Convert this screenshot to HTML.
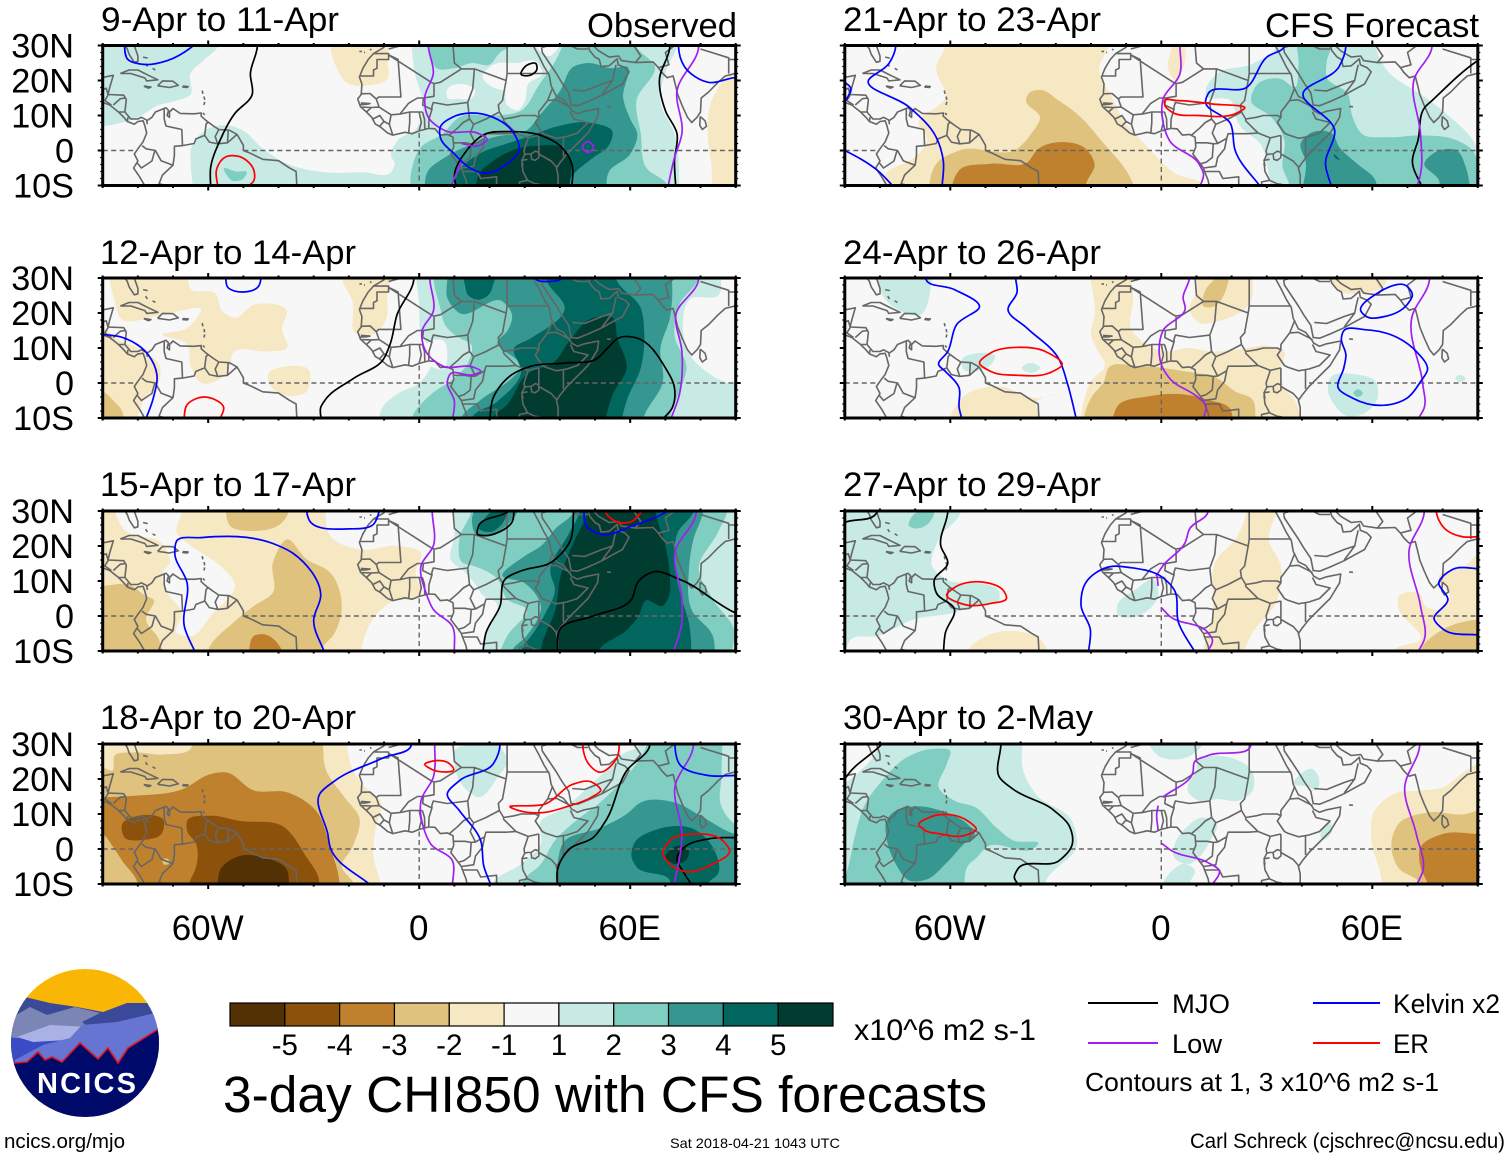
<!DOCTYPE html>
<html lang="en">
<head>
<meta charset="utf-8">
<title>3-day CHI850 with CFS forecasts</title>
<style>
html,body{margin:0;padding:0;background:#fff;width:1510px;height:1158px;overflow:hidden}
svg{position:absolute;left:0;top:0;font-family:"Liberation Sans",Arial,sans-serif}
</style>
</head>
<body>
<svg id="figure" width="1510" height="1158" viewBox="0 0 1510 1158" xmlns="http://www.w3.org/2000/svg">
<defs id="clips">
<clipPath id="logo-clip"><circle cx="85" cy="1043" r="74"/></clipPath>
</defs>
<g id="p0"><text x="101" y="31" font-size="34.6" textLength="238" lengthAdjust="spacingAndGlyphs">9-Apr to 11-Apr</text><text x="587" y="37" font-size="34.6" textLength="150" lengthAdjust="spacingAndGlyphs">Observed</text></g>
<g id="p1"><text x="100" y="264" font-size="34.6" textLength="256" lengthAdjust="spacingAndGlyphs">12-Apr to 14-Apr</text></g>
<g id="p2"><text x="100" y="496" font-size="34.6" textLength="256" lengthAdjust="spacingAndGlyphs">15-Apr to 17-Apr</text></g>
<g id="p3"><text x="100" y="729" font-size="34.6" textLength="256" lengthAdjust="spacingAndGlyphs">18-Apr to 20-Apr</text></g>
<g id="p4"><text x="843" y="31" font-size="34.6" textLength="258" lengthAdjust="spacingAndGlyphs">21-Apr to 23-Apr</text><text x="1265" y="37" font-size="34.6" textLength="214" lengthAdjust="spacingAndGlyphs">CFS Forecast</text></g>
<g id="p5"><text x="843" y="264" font-size="34.6" textLength="258" lengthAdjust="spacingAndGlyphs">24-Apr to 26-Apr</text></g>
<g id="p6"><text x="843" y="496" font-size="34.6" textLength="258" lengthAdjust="spacingAndGlyphs">27-Apr to 29-Apr</text></g>
<g id="p7"><text x="843" y="729" font-size="34.6" textLength="250" lengthAdjust="spacingAndGlyphs">30-Apr to 2-May</text></g>

<g>
<g clip-path="url(#logo-clip)">
<rect x="10" y="968" width="150" height="150" fill="#f9b605"/>
<polygon fill="#3b4a98" points="25,997 50,1003 77,1007 103,1012 127,1003 148,1003 165,1030 165,1080 5,1080 8,1030"/>
<polygon fill="#3a4cc4" points="5,1030 60,1030 60,1075 5,1075"/>
<polygon fill="#7c86b4" points="13,1017 30,1007 47,1015 75,1007 100,1013 82,1022 88,1027 50,1030 17,1038 5,1037"/>
<polygon fill="#aab1e4" points="17,1037 50,1025 88,1027 67,1040 33,1042"/>
<polygon fill="#6675d2" points="15,1060 43,1045 70,1038 82,1025 117,1022 155,1013 170,1025 170,1070 15,1070"/>
<polygon fill="#000a6b" stroke="#e0141e" stroke-width="1.6" points="5,1062 15,1063 27,1062 38,1052 45,1060 52,1057 62,1062 80,1043 98,1059 108,1048 118,1063 128,1048 157,1030 170,1022 170,1120 5,1120"/>
</g>
<text x="37" y="1093" font-size="29" font-weight="bold" fill="#fff" textLength="99" lengthAdjust="spacing">NCICS</text>
</g>
<text x="4" y="1148" font-size="20.5" textLength="121" lengthAdjust="spacingAndGlyphs">ncics.org/mjo</text>

<g id="colorbar"></g>
<text x="854" y="1040" font-size="29.9" textLength="182" lengthAdjust="spacingAndGlyphs">x10^6 m2 s-1</text>
<text x="223" y="1112" font-size="51" textLength="764" lengthAdjust="spacingAndGlyphs">3-day CHI850 with CFS forecasts</text>
<text x="670" y="1148" font-size="14" textLength="170" lengthAdjust="spacingAndGlyphs">Sat 2018-04-21 1043 UTC</text>

<g>
<line x1="1088" x2="1158" y1="1003" y2="1003" stroke="#000" stroke-width="2"/>
<text x="1172" y="1013" font-size="27" textLength="58" lengthAdjust="spacingAndGlyphs">MJO</text>
<line x1="1313" x2="1380" y1="1003" y2="1003" stroke="#0000ff" stroke-width="2"/>
<text x="1393" y="1013" font-size="27" textLength="107" lengthAdjust="spacingAndGlyphs">Kelvin x2</text>
<line x1="1088" x2="1158" y1="1043" y2="1043" stroke="#a020f0" stroke-width="2"/>
<text x="1172" y="1053" font-size="27" textLength="50" lengthAdjust="spacingAndGlyphs">Low</text>
<line x1="1313" x2="1380" y1="1043" y2="1043" stroke="#ff0000" stroke-width="2"/>
<text x="1393" y="1053" font-size="27" textLength="36" lengthAdjust="spacingAndGlyphs">ER</text>
<text x="1085" y="1091" font-size="26" textLength="354" lengthAdjust="spacingAndGlyphs">Contours at 1, 3 x10^6 m2 s-1</text>
</g>
<text x="1190" y="1148" font-size="21" textLength="315" lengthAdjust="spacingAndGlyphs">Carl Schreck (cjschrec@ncsu.edu)</text>
</svg>

<script>
/* ---------- axis values ---------- */
const latMajor = [30, 20, 10, 0, -10];
const latLabels = ["30N", "20N", "10N", "0", "10S"];
const latMinor = [28,26,24,22,18,16,14,12,8,6,4,2,-2,-4,-6,-8];
const lonMajor = [-60, 0, 60];
const lonLabels = ["60W", "0", "60E"];
const lonMinor = [-90,-80,-70,-50,-40,-30,-20,-10,10,20,30,40,50,70,80,90];
/* equator is only dashed over ocean: lon ranges */
const equatorOcean = [[-90,-80.5],[-50,9.2],[42,90]];

/* ---------- colorbar ---------- */
const levelKeys = [-5,-4,-3,-2,-1,0,1,2,3,4,5];
const levelColors = ["#543005","#8c510a","#bf812d","#dfc27d","#f6e8c3","#f7f7f7","#c7eae5","#80cdc1","#35978f","#01665e","#003c30"];
const colorbarLabels = ["-5","-4","-3","-2","-1","1","2","3","4","5"];

/* ---------- base map (lon,lat pairs) ---------- */
const coastlines = [
[-84,30.5,-83,29,-82.5,27.5,-81,25.2,-80,25.5,-80,27,-81,30,-81,32],
[-98,28,-97.5,22,-95,18.6,-92,18.6,-90.5,20.8,-87,21.5,-88,18,-88.5,16,-84,15.8,-83.3,14.5,-83.7,11,-82,9,-80,9,-79,9.5,-77.3,8.6,-76,9.5,-75,11,-72,12.2,-71.3,11.5,-71.7,10,-71,9.5,-71,11,-70,12,-68,10.6,-64,10.5,-62,10.7,-62,9.8,-60.5,8.5,-58.5,7,-57,6,-54,5.8,-51.8,4.6,-50,1.5,-50,0,-48,-0.8,-44.5,-2.5,-40,-2.9,-37,-4.9,-35,-6,-34.8,-10,-37,-12,-39,-16],
[-95,16,-92,14.5,-88,13,-85.5,11,-84,9.5,-83,8.3,-81,7.5,-80,8.3,-78.5,8.5,-78,7,-77.5,5,-78.5,2.5,-80,0.5,-81,-1,-80,-3,-81.2,-5,-79.5,-7.5,-77.5,-11,-76,-14],
/* central + south American borders */
[-92,14.5,-91,17,-89,17.8,-88.5,16],[-88.5,15.8,-89.4,14.3,-87.5,13],[-87,13,-85,14.8,-83.3,15],[-85.6,11,-83.7,11],[-83,8.3,-82.8,9.5],[-77.5,8.6,-77.3,7.5],
[-72.5,11.8,-72.5,9,-72,7,-67.5,6,-67.3,1.4,-64,2,-63.5,3.3,-61,4.3,-60.6,7.6,-59.8,8.2],
[-61,4.3,-59.7,2.4,-57.3,1.9,-58,4,-57,6],[-57.3,1.9,-54.5,2.2,-54.3,5.6],[-54.5,2.2,-51.8,4.6],
[-67.3,1.4,-69.6,1.2,-69.6,-1.4,-70,-4.2,-73,-7,-74,-9.5,-72,-10,-70.5,-11,-69,-11,-66,-10,-65,-12],
[-78.8,1.4,-77.7,0.5,-75,0,-73.4,-2.9,-70,-4.2],[-80.3,-3.4,-79,-5,-76,-3,-75.2,-0.2],
[-85,22,-82.5,23,-80,23,-77,21.5,-74.3,20.2,-77.5,19.9,-78,20.7,-82,22,-85,22],
[-74.4,18.5,-73,19.9,-70,19.8,-68.5,18.6,-71,18,-74.4,18.5],
[-78.3,18.4,-76.3,18.1,-77,17.8,-78.3,18.4],
[-67.2,18.4,-65.7,18.3,-66,18,-67.2,18.1,-67.2,18.4],
[-78.5,26.7,-77.2,26.4],[-77.8,24.8,-77.3,24],[-75.8,23.5,-75,23],
[-61.7,17.1,-61.5,16.2],[-61.2,15.4,-61,14.5],[-61,13.9,-61.2,13],[-61.5,10.7,-61,10.2],
[-17,28.3,-16.3,28.3],[-15.7,28,-15.4,28],[-14,28.7,-13.6,29],
/* Africa west + south-west coast */
[-6,35.5,-9.7,31.5,-10,29.5,-13,27.7,-14.5,26,-16,23.5,-17,21,-16.3,19,-16.5,16,-17.5,14.7,-16.7,12.5,-15,11,-13.5,9.5,-12.5,7.6,-11,6.7,-9,5,-7.5,4.4,-4,5.2,-2,4.8,0,5.6,2.7,6.3,4.5,6.2,6,4.4,8,4.6,9.6,3.8,9.8,1,9,-1,10.5,-3,12,-5,12.3,-6,13.3,-8.5,13.8,-11,12.5,-14,12,-17],
/* Africa east coast + Red Sea west */
[32.6,31,32.5,29.8,34,27,35.5,24,37,21.5,37.5,18.5,39,15.5,41,14.5,43,12,43.3,11.4,45,10.5,47,11.2,51,12,50.7,9.5,48,5,45,2,42,-1,40,-3.5,39,-5,39.5,-7,39.5,-10,40.6,-14,40.6,-16],
/* Arabia + Asia */
[34.8,29.5,35,28,37,25,39,22,40.5,19.5,42.5,16.5,43.2,13,45,12.8,48,14,52,15.8,55,17.5,57.8,19,59.7,22.5,58.5,23.7,56.6,24.5,56.3,26.2,55.3,25.3,54,24.2,51.7,24,51.2,26,50,26.7,48.5,28.5,48,30,49,30.5,51,28.5,54,26.7,56.7,27,57.5,25.7,61.5,25.1,66.5,25.3,68,23.7,69,22.3,70.5,20.8,72.2,21.3,72.8,19,73.5,16,74.8,12.8,76.3,9.5,77.5,8,79,9.5,80,11,80.2,15,82.3,16.7,85,19.5,87,21.3,89,21.8,91,22.5,92,20.8,94,16,94,18],
[79.9,9.7,81.3,8.5,81.7,6.9,80.5,6,79.8,7.2,79.9,9.7],
[53.4,12.6,54.5,12.5],
/* lakes */
[31.8,-1,33,-0.2,34,-0.5,34,-2,33,-2.8,32,-2.5,31.8,-1],[29.2,-3.5,29.5,-6,30.8,-8.5],[34.3,-9.7,34.8,-13],
/* country borders – W Africa */
[-13,27.7,-8.7,27.7,-8.7,26,-12,26,-12,23.5,-13,23,-13,21.3,-17,21.3],
[-8.7,27.3,-6,26,-5.2,15.3,-11.5,15.3,-12.2,14.7,-14,16.3,-16.5,16.2],
[-8.7,27.3,3.4,19.5,4.2,19.1,6,19.5,12,23.3,10,25,9.6,30,8,32,8.5,36],
[-8.7,29,-5,30,-2,32,-2,35],
[4.2,19.1,4.2,15.5,1.2,15,1,13,3.6,11.7,3.6,12.5,4,13.7,8,13,13.8,13.7,15.2,17.6,15.7,23.3,12,23.3],
[2.7,6.3,2.8,9,3.6,11.7],[1.6,6.2,1.5,9,0.9,11],[0,5.8,0.6,8,0,11],[-3,5,-2.7,8,-2.7,11,0,11,0.9,11],
[-5.5,10.4,-2.7,11],[-5.5,10.4,-3,13.5,-0.5,15,1,15],[-7.5,4.4,-8.5,7.5,-8,10.2,-5.5,10.4],
[-11.3,6.9,-10,8.3,-8.5,7.5],[-13.2,9,-11.2,10,-10,8.3],[-15,11,-13.6,12.3,-16.7,12.4],
[-13.6,12.3,-11.4,12.4,-8,10.2],[-11.4,12.4,-12.2,14.7],[-16.6,13.6,-14,13.4,-15,13.2,-16.7,13.1],
[13.8,13.7,14.3,9,12.5,8,11,6.5,8.6,4.4],
[9.8,2.2,13,2.2,14.8,1.9,16,2,14.5,5,15.5,7.5,19,9,22.8,11,22.5,13,23.7,14.3,24.7,20,15.7,23.3],
[14.3,9,15.5,7.5],
/* central + east Africa */
[24.7,20,25,22,25,32],[25,22,37,22],
[22.8,11,24,9,27,9.5,29,10,33,10,34,9.5,34,11,36.5,14.3,38,18],
[36.5,14.3,39,14.5,43,12.4],[34,9.5,33,8,35,5,36,4.5,39,3.5,42,4,45,5,48,8,44,9,43,11],
[41,3.8,41,-1.7],[34,4.3,34,0,34,-1,37.5,-3,39,-4.7],[31,3.6,34,4.3],
[31,3.6,29.8,0,30,-1.2,29.2,-2.8,29.5,-4.5],[30,-1.2,30.8,-1,31.8,-1],[30.8,-2.5,29.2,-2.8],
[31,3.6,27.5,5,24.7,4.8,19,4.8,18.6,3.5,16,2],[27.5,5,24,8.5,24,9],
[18.6,3.5,18,0.5,16,-2,15.5,-4.5,12,-5],[14.8,1.9,14.5,-2,12.8,-3.3,11.2,-3.8],
[12.3,-6,16.5,-6,17.5,-8,22,-7.5,22,-11,24,-11,24,-13],[24,-11,28,-12,29,-13.5,28.5,-9,30.8,-8.5,33,-9.5,34.3,-9.7],[34.5,-11.5,40.5,-10.5],
/* Arabia borders */
[39,32,37,30,35,29.5],[39,32,45,29,48,29],[43.5,17.3,47,17,52,19,55,20,52,16],[55,20,55.5,22.5,56,24.5],
[48,30,46,33],[61.5,25.2,63,27,61,30,61,33],
[61,30,67,30,70,33],[68,23.7,71,24.5,70,28,74,31,75,33],[80,29,88,26.5,88,22],[88,26,92,26,92,23,91,22.5],[92,24,94,24]
];

/* ---------- filled contours: [level, lon,lat outline] ---------- */
const fills0 = [
[1,[-95,35,-56,35,-57,30,-61,26,-65,22,-65,16,-70,14,-74,13,-80,9.5,-86,7.6,-95,7]],
[1,[-63.5,-15,-65,-3,-65,0,-59.5,6.5,-55,7.2,-50,5.7,-45,1,-37.5,-3.8,-27,-6.2,-16,-6.2,-8,-6.2,-7,-3.8,-8,-1.5,-6,3,-1,6,1,14,-1,21,-2,35,72,35,73.3,30,70.6,24,68.6,14,72.6,4.8,74,-10,74,-15]],
[0,[18,21,21,24.5,28,25,33,25.5,35,22,31,19,30,14,28,11.5,25,13,24,17,21,18]],
[0,[8,17.5,12,19,16,17,15,15,11,14.8,8,15]],
[0,[33,35,33,30,37,27,40,30,41,35]],
[2,[3,35,3,28,5,23.5,10,23.5,15,25,20,24.5,23,28,26,30,27,35]],
[2,[-2,-15,-2.2,-5.7,0.5,1,6.7,4.8,11.4,9.5,22.3,10,29,11.4,34,18.6,39.3,26.7,40.7,30,41,35,62,35,61.8,30,67,24,61.8,14.3,63,4.8,64.5,-4.8,70.6,-10,71,-15]],
[3,[2,-15,2.6,-5.7,7.3,-2,15.5,2,22,4,30.5,5.7,34.6,10.5,40,17,44,24,48,25,55,23.5,59,24,58,15,60,9,62,4.8,60,-1,54,-6,53,-15]],
[4,[10,-15,11.4,-5.7,17,-1,25,2,30.5,3.8,38.6,6.7,48,8,55,5.2,53.6,1,49.5,-2,42.7,-8.5,41,-15]],
[5,[17,-15,17,-6.7,21,-3,27.8,0.5,34.6,1.4,40,1,42.7,-2,43,-8,41.4,-15]],
[2,[-55.5,-5,-52,-6,-49,-6.2,-50,-8,-53,-8.7]],
[-1,[-25.3,35,-25.3,30,-24,24.8,-20,19,-14.4,18.6,-9,20.5,-9,25.7,-9,35]],
[-1,[96,22,89,22,83.5,15,82,5,83,-3,85,-15,96,-15]]
];
const fills1 = [
[-1,[-88,35,-66,35,-64.8,26.7,-58,25.7,-56,20.5,-52.5,18.6,-47,22.4,-37.6,20.5,-39,15.7,-37.6,10,-43,9,-52.5,9,-55,2.4,-62,0,-64.8,4.3,-66,11,-73,13.8,-66,15.7,-62,21,-73,19.5,-85,18.6,-86.6,23.3]],
[-1,[-95,15.7,-90,15.7,-85,12,-80,10,-73.6,4.3,-74,0.5,-78.4,-5,-80,-10,-80,-15,-95,-15]],
[-2,[-96,-3,-90,-2.4,-87,-5,-84.5,-8,-85,-15,-96,-15]],
[-1,[-43,2.4,-37.6,4.8,-31.4,3.8,-32,-2.4,-39,-3.3,-42.5,-0.5]],
[-1,[-22,35,-22,30,-19,23.3,-18,14,-12,14.5,-9.5,18,-9,26,-7,35]],
[1,[-11.5,-15,-10.5,-7,-6,-3,0,0,3,4,4,8,0.5,14,0,22,-1,35,85,35,85,25,77,24,75,15,77,8,82,3,88,0,96,0,96,-15]],
[0,[3,12,7,12,8,8,7,4,3,5]],
[2,[-2,-15,-2,-10,3.3,-3.3,10,1.4,14,6,14.8,11,11.4,12.9,7.3,16.7,6,21.4,4,30,4,35,80,35,79.5,30,74,22.4,72.6,13.8,76,4.3,74,-2.4,71.3,-10,71,-15]],
[3,[12,-15,12,-10,17,-5.2,26.4,1.4,29,4.3,22.3,12,25,14.8,26.4,19.5,23.7,23.3,11.4,20,8,24.3,8,30,8,35,71,35,71.3,18.6,68.6,10,69.3,0.5,63.8,-10,63,-15]],
[4,[15,-15,15,-10,22.3,-5.2,29,3.3,27,10,31.8,12.8,41.4,21.4,36,30,36,35,56,35,56,30,63,21.4,64,13.8,63,4.3,59,-5,57.7,-10,57,-15]],
[4,[13,35,13,28,14,25,17,23.8,20,25.5,21,28,22,35]],
[5,[21,-15,21,-10,25,-6.2,30.5,2.4,38.6,6.2,42.7,12,49.5,18.6,55,18.6,56.3,13,59,4.3,55,-3.3,53,-10,52,-15]]
];
const fills2 = [
[-1,[-96,35,-26.7,35,-26.7,30,-25.3,22.9,-17,19,-6,20,0.5,18,-1,12.4,0.5,6,-8.3,3.8,-11.7,1,-15.8,-6.7,-17,-15,-96,-15]],
[0,[-86.5,35,-86.5,30,-84,24.8,-73,20.5,-71,15,-73,12.4,-71.6,6.7,-67.5,1,-69,-4.8,-64.8,-5.7,-59.3,0,-52.5,9.5,-56.6,14.3,-64.8,20,-69,23.8,-67.5,30,-67.5,35]],
[-2,[-96,8.6,-90,8.6,-82.5,9,-77.7,5.7,-75.6,4.8,-77.7,-1,-74,-6.7,-73,-15,-96,-15]],
[-2,[-55,35,-55,30,-54,26,-47,24.3,-39,26.7,-37,30,-37,35]],
[-2,[-60,-15,-60,-10,-53,-2,-47,2.9,-41.6,6.7,-41.6,15.2,-37.5,21.9,-32,16.2,-25.3,12.4,-22,2.9,-24,-4.8,-28,-10,-28,-15]],
[-3,[-48.4,-15,-48.4,-10,-47,-5.7,-44.4,-5.2,-39,-10,-39,-15]],
[1,[9.4,35,10,22.9,9,16,13,12.5,16,9,18,6,22,3.5,22.3,1.9,19,-4.8,18,-15,96,-15,96,35]],
[2,[14.8,35,14.8,30,11.4,21.9,12.4,15.2,15.5,14.3,22.3,10.5,25,4.8,30.5,1.9,25,-5.7,21.6,-15,89,-15,89,-10,89.7,-4.8,83.5,4.8,79.5,13.3,85,24,87.6,30,87.6,35]],
[3,[15,27,16,23.5,21,23.5,26,27,28,30,27,35,20,35]],
[4,[17,25,20,24,24,27,25,30,21,30,18,27]],
[3,[26.4,-15,26.4,-10,30.5,-5.7,34.6,2.9,29.8,9.5,23.7,11.4,29.8,17,34.6,20,38.6,24.8,44,30,44,35,81,35,80.8,30,78,22,76.7,13.3,77.4,1.9,83.5,-5.7,83.5,-15]],
[4,[29,-15,29,-10,32.5,-4.8,36,1,38.6,7.6,37.3,12.4,42.7,23.8,45.7,30,46,35,78,35,78,30,73.5,23.8,72.7,14.3,74.7,4.8,76.7,-1.9,76.7,-15]],
[5,[34.6,-15,34.6,-10,39,2.9,40,10.5,44.8,22.9,47.5,28.6,48,35,67,35,67.2,30,70,20,71.3,11.4,71,5.7,69.3,2.9,64.5,4.5,62.4,0,59,-4,51,-10,50,-15]]
];
const fills3 = [
[-2,[-96,35,-27.3,35,-27.3,30,-26.7,23.3,-21.2,14.8,-17,9,-19,0.5,-22,-5,-18.5,-10,-18.5,-15,-96,-15]],
[-1,[-96,35,-20.5,35,-20.5,30,-19.2,23.3,-14.4,16.7,-11,13.8,-12.4,6,-13,-2.4,-11,-10,-11,-15,-18,-15,-18.5,-10,-22,-5,-19,0.5,-17,9,-21.2,14.8,-26.7,23.3,-27.3,30,-27.3,35]],
[-1,[-96,33,-64.8,33,-64.8,29,-73,27,-81,27.6,-86.6,26.7,-87.3,22.4,-90,23.3,-96,23]],
[-3,[-96,14.8,-90,14.8,-81,15.2,-67.5,17,-59.3,21.4,-55,21.9,-47,16.7,-37.6,16.2,-29.4,11,-25.3,0.5,-22.6,-10,-22.6,-15,-80,-15,-80,-10,-84.5,-3.3,-87,0.5,-90,4.3,-96,5]],
[-4,[-80,9.5,-72.6,8,-73.3,4.3,-78.4,2.6,-83.8,3.3,-84.5,7]],
[-4,[-66,8,-59.3,9.5,-51,8,-39,6.6,-32,-2.4,-28.7,-8,-28.7,-15,-65.4,-15,-65.4,-10,-63.4,-5,-63.4,1.4,-66,5.2]],
[-5,[-57.3,-15,-57.3,-10,-56.6,-6,-51,-2,-44.4,-2.4,-37.6,-6,-37,-10,-37,-15]],
[-2,[-73,-3,-71.5,-2.8,-71,-4,-72.5,-4.5]],
[-1,[-18,15,-16,15.5,-12,9,-14,5,-17,11]],
[1,[10,28,10,24.3,12,18.6,17,14.8,22.3,20.5,25,25,22,30,15,30]],
[1,[21,-15,21,-10,29,-4.3,34.6,1.4,34.6,8,40,11,52,21.4,57.7,27,63,30,63,35,96,35,96,-15]],
[2,[29,-15,29,-10,34.6,-4.3,38.6,2.4,44,7.6,52,13.8,57.7,19.5,64.5,29,66,35,85,35,86,22,86,12,90,7,96,6,96,-15]],
[3,[39.3,-15,39.3,-10,39.5,-3,40.7,1.4,52,6.2,59,10,63,13.3,72.6,13.3,80.8,9,90,4.3,96,4,96,-15]],
[4,[60.4,-2.4,61,1.4,68,5.7,78,5.7,83.5,0.5,85,-7,82,-10,82,-15,71,-15,71.3,-9,61.7,-5]],
[5,[70,-2.4,74,1,76.7,-0.5,76,-3,72.6,-4.3]]
];
const fills4 = [
[-1,[-61.4,35,-61.4,30,-64,23.8,-61.4,15.2,-69,7.6,-66.5,2.9,-69,-1,-78.8,-7.6,-78,-15,12,-15,12,-10,4.2,-6.7,-4.8,1.9,-10,7.6,-14,15,-17.6,23.8,-15,30,-15,35]],
[-1,[3,35,3,30,2,23,4,20,6,23,7,30,7,35]],
[-2,[-66,-15,-66,-10,-64,-3.8,-57.5,0,-41,0.5,-37,4.8,-34.5,9.5,-38.5,14.5,-37.5,16.5,-34.4,17.3,-29.2,14.3,-24,10.5,-16.3,1.9,-10,-5.7,-6,-15]],
[-3,[-59.5,-15,-59.5,-10,-57.5,-5.7,-48.5,-3.8,-38,-3.3,-35,0.5,-29,2.4,-21.5,0.5,-19,-3.8,-21.5,-10,-21.5,-15]],
[1,[12.6,17,15.8,21.9,26,24.8,32.6,29.5,33,35,61,35,60.9,30,63.4,24,75,15.2,80,11.4,88,3.8,90,1,96,0,96,-15,31,-15,31,-10,30,-3.8,28.7,1,22,7.6,19.7,14.3,12.6,16]],
[2,[25.5,14.3,27.4,19,33.8,20.5,38,18,39,24,39,35,50,35,47,25,47,21,53,16.2,54.4,9.5,57,4.8,64.7,3.8,73.7,4.3,84,2.9,88.5,0,90,-3,91,-15,36.4,-15,36.4,-10,34.5,-4.8,35,2.9,31.3,9.5]],
[3,[39.6,1.9,42.9,5.2,48.6,4.8,50.6,1,55.7,-3.8,60.9,-8.6,61,-15,40.3,-15,41,-2.9]],
[3,[74.8,-3.8,79,0,84,0,86.6,-4.8,86.6,-15,79,-15,79,-8.6]],
[4,[49,-1,50,-1.8,50.7,-2.6,49.8,-2.4]]
];
const fills5 = [
[1,[-80.7,35,-80.7,30,-78,23.3,-68.5,19.5,-65.3,30,-65.3,35]],
[1,[-56.9,6.2,-51.7,8.6,-47.2,7.6,-48.5,5.2,-56.5,4.3]],
[1,[-39.7,4.3,-37.6,5.7,-34.4,4.3,-36.9,2.9]],
[1,[47.4,-2.4,48,1.4,55.7,2.4,60.9,0.5,61.5,-4.3,57,-9,53,-9.5,49.2,-6.2]],
[1,[83.6,1.4,85,2.3,86.6,1.2,85,0.2]],
[2,[54.6,-2.9,56,-1.8,57.3,-2.9,56,-4]],
[-1,[-19,35,-8.6,35,-8.6,30,-8,24,-8.6,15.7,-4,11,1,9,8,10,14,9,21,9.5,31,10.5,35,9,34,4.3,35,-1.4,38,-5,39.6,-15,-23,-15,-22,-5,-20,0.5,-16,5,-18.5,10,-20,14,-19,19]],
[-1,[10,35,26,35,26,30,25.5,23.3,16,17.6,10.7,17.2,8,21.4,10,26]],
[-1,[47.4,35,47.4,30,52,25.7,55.7,25.7,63.5,28,63.5,35]],
[-1,[-60,-15,-60,-10,-55.5,-3.3,-46,-1,-35.7,-4.3,-26.6,-2.4,-35.7,-6.2,-34.4,-10,-34.4,-15]],
[-2,[12,21.9,12.6,26.7,15.2,30,15.2,35,17.8,35,17.8,25.2,15.2,21.9]],
[-2,[-22,-15,-22,-10,-20,-4.3,-16.3,0.5,-15,4.3,-6,4.8,6.8,3.3,15.8,1.4,21,-2.4,26,-4.8,26.8,-10,26.8,-15]],
[-3,[-13.8,-15,-13.8,-10,-12.5,-6.7,-3.5,-3.8,6.8,-3.3,13.3,-4.8,19.7,-7.6,20.3,-10,20.3,-15]]
];
const fills6 = [
[1,[-96,35,-56.9,35,-56.9,30,-63.3,21.9,-65.2,14.3,-60,10,-52.4,9.5,-46,6.7,-46,4.8,-53.7,2.9,-58.8,1,-70.4,-1,-80.7,-5.7,-88.3,-6.7,-90,-10,-96,-15]],
[2,[-71.7,25.7,-70.4,29,-64.6,29.5,-66.5,26.2,-69.8,25]],
[1,[-12.5,2.9,-7.3,7.6,-2.2,10.5,-0.9,5.7,-3.5,1.9,-8.6,-0.5,-12.5,0.5]],
[-1,[-55,-15,-55,-10,-49.8,-5.7,-42,-4.3,-34.4,-6.7,-32.4,-10,-32.4,-15]],
[-1,[12,-15,12,-10,14.5,0,15.8,16.2,21,21.9,24.2,30,24.2,35,32.6,35,32.6,30,30.6,21.9,34,14.3,32.6,3.8,26,-4.8,23.6,-10,23.6,-15]],
[-1,[66,-15,66,-10,73.7,-6.7,67.3,2.9,67.3,5.2,73.7,6.2,75,2.9,78.9,1.9,82,5,78.9,11.4,86.6,14.3,90,17.6,96,15,96,-15]],
[-2,[73.7,-15,73.7,-10,80.2,-3.8,90,-1,96,-1,96,-15]]
];
const fills7 = [
[1,[-96,35,-39.5,35,-39.5,30,-39.5,23.3,-35.7,15.7,-25.4,8,-24,1.4,-33,-10,-33,-15,-96,-15]],
[0,[-96,35,-80,35,-81,28,-86,22,-90,19,-96,19]],
[2,[-65,28.6,-60,28,-61,24.3,-63.3,17.6,-58.8,13.8,-53,12,-47,6.2,-42,2.4,-35,1.4,-36,0.4,-49.8,0.5,-52.4,-2.4,-55,-4.8,-56,-10,-56,-15,-90,-15,-90,-10,-88.6,-3.3,-86.5,6.2,-84.6,12,-79.4,19.5,-72.3,26.2]],
[3,[-78.1,8,-76.8,10,-71.7,12,-61.4,10.5,-55,7,-53,4.3,-56.2,1.4,-61.4,-4.3,-66.5,-8.6,-71.7,-9,-75.5,-4.3,-78,2.4]],
[1,[-3.5,35,-3.5,30,-0.9,26.7,8.4,26.7,12,30,15,35]],
[1,[10,24.3,20,26,26,21.9,26,16.7,22,13.8,16,14.3,10.7,13.8,7.5,16.7,8,19.5,10,22.4]],
[1,[6.2,5.2,12,9,15.8,7,13.9,2.4,10.7,-2.4,8,-4.3,3.6,-2.4,4.2,2.4]],
[1,[0.4,-15,0.4,-10,2.3,-7,6.8,-4.3,9.5,-6,8,-10,8,-15]],
[1,[37.7,18.6,42.9,22.9,44.8,20.5,44,16.7,42.2,17.6]],
[1,[45.4,3.3,48,7.6,48.6,5.7,46,2.8]],
[-1,[62.8,-15,62.8,-10,59.6,4.3,60.2,10,66,15.7,73.7,16.7,80,17.6,86.6,22.4,90,24.3,96,24,96,-15]],
[-2,[73.7,-15,73.7,-10,67.3,-5.2,65.4,1.4,67.3,7,76.3,10.5,86.6,10,90,11,96,11,96,-15]],
[-3,[75.7,-15,75.7,-10,73.7,-5.2,73.7,0.5,80,4.3,90,4.3,96,4,96,-15]]
];

/* ---------- contour lines (lon,lat) – a repeated first point closes a loop ---------- */
const mjo0 = [[-46,31,-46,30,-48,22,-47.5,16,-52.5,10.5,-56.6,3,-59.3,-4.8,-59.3,-11],
[29,21.7,30.5,24.3,33.2,24.8,33.5,23.3,31.2,21.4,29,21.7],
[10.7,-11,10,-7.6,13.5,0,19,4.8,25,5.4,34.6,4.3,40,1.4,43.4,-3.8,43.4,-11],
[71.3,31,71.3,30,68.3,20,70,11.4,73.3,4.8,72.6,-3,73,-11]];
const low0 = [[2.6,31,2.6,30,4,22,1.6,15.2,2.6,9.5,7.3,5.7,17,4.8,19.3,3.3,17,1.4,12,2],
[8.7,-11,12,-3],
[48,2.6,49.6,1,48,-0.6,46.4,1,48,2.6],
[79.5,31,79.5,30,73.3,17,74.7,4.8,72.6,-2,70.6,-11]];
const kelvin0 = [[-83.8,31,-83.8,30,-83,26.2,-78.4,24.6,-71.6,25.7,-64.8,29.5,-63,31],
[6,6.7,9.4,9.5,14.8,10.7,21,9.5,27,4.8,28.4,0,25,-3.8,19,-6.5,14.8,-5.2,10,-1,6,3.8,6,6.7],
[73.7,31,73.7,30,75.4,24,82.2,19.5,89.7,20.8,92,21]];
const er0 = [[-57.2,-11,-57.5,-5,-55.2,-1.9,-51.2,-1.7,-47,-5.7,-47,-8.6,-50,-11]];

const mjo1 = [[-1.5,31,-1.5,30,-6.3,19.5,-8.3,11,-10.3,6.6,-18.5,1.4,-26.7,-4.8,-28,-7,-27.8,-11],
[20,-11,21,-4.3,26.4,2.4,31.8,4.8,41.4,5.7,50.6,7,53.6,10,57,13,61.8,12.9,70,4.3,72.6,-1.4,72,-7,68.6,-11]];
const low1 = [[79.5,31,79.5,30,73,19.5,74.7,9,74,-3.3,71.3,-11],
[3,31,3,30,4,20.5,0.8,14.8,1.9,9,6.7,4.8,15.5,4.5,17.5,3.4,15.5,2.4,8.7,2.4,8,0.5,10,-5.2,9.4,-11]];
const kelvin1 = [[-55,31,-55,30,-54.6,27.6,-50,26,-45.7,27.6,-45,30,-45,31],
[-92,13.8,-90,13.8,-84,12.9,-77,8,-74.6,2.4,-75.6,-4.3,-78,-11],
[33,31,33,30,37,29,41,30,42,31]];
const er1 = [[-67,-11,-66,-6.2,-61,-4,-55.6,-7,-57,-11]];

const mjo2 = [[16.6,23.3,16.9,25.7,23.7,29,26.7,30,26.7,27.6,22.3,23.8,18,23,16.6,23.3],
[18,-11,19,-4.8,23,2.9,24.4,10.5,29,12.9,37.3,15.2,42.7,21,44,31],
[39.3,-11,40,-3.8,49.5,0,60.4,4.8,62.4,10,66.5,12.6,74,10.5,89.7,1,92,0]];
const low2 = [[3.7,31,3.7,30,4,20,0.5,14.3,1.9,6.7,4,1.9,9.4,-2.9,10,-11],
[78.8,31,78.8,30,72.7,18,74.7,4.8,74.7,-1.9,72,-11]];
const kelvin2 = [[-32,31,-32,30,-31.4,27.6,-20,24.9,-13,26.2,-11,31],
[-63.4,-11,-66.8,-2.9,-66,9.5,-69.5,18,-69,21.4,-62,22.4,-41.6,20.7,-36,18,-28,5.7,-30,-1,-26.7,-11],
[46.8,31,47.5,25.7,52,23.3,60.4,25.7,70.6,30,72,31]];
const er2 = [[53,31,53,30,56.3,26.9,60.4,27,63,29.5,64,31]];

const mjo3 = [[65.6,31,65.6,30,59,22.4,53,8,49.5,3.3,42.7,0,39.3,-6,39.3,-11],
[91,3.3,82.2,2.9,75.4,0.5,73.3,-2.4,75.4,-7,78,-11]];
const low3 = [[4.4,31,4.4,30,4,20.5,0.5,13.8,1.2,6.2,3.3,1.4,9.4,-3.3,9.4,-11],
[78,31,78,30,72.7,17.6,74.7,4.3,72.4,-11]];
const kelvin3 = [[-2.2,31,-2.2,30,-10.3,26,-24,19.5,-28.3,15.7,-26,4.3,-25.3,0.5,-13,-11],
[23,31,23,30,21,24.3,11.4,19.5,8,15.7,11.4,11,17.5,2.4,18.4,-5,20.7,-11],
[72.7,31,72.7,30,74,24.3,82.2,21,89.7,21,92,21]];
const er3 = [[1.6,24.3,3.3,25,8.7,24.3,9.8,22.9,3.9,22.6,1.6,24.3],
[46.5,31,46.5,30,48.2,24.3,51,22,56.3,26.2,57,31],
[26,11.9,35.9,12.9,44,18.6,48.9,19.2,51.6,16.7,49,14.8,42,12.1,35.9,10.5,29,10.8,26,11.9],
[69.3,-1.4,71.3,2.4,78,4.3,86.3,2.4,88.3,-0.5,83.5,-4.3,75.4,-6.4,71.3,-4.3,69.3,-1.4]];

const mjo4 = [[74.4,-11,71.4,-2.9,73,2.9,75,12.4,77,14.3,90,25.7,92,27]];
const low4 = [[5.3,31,5.3,30,5.3,21.9,0.4,14.3,0.4,8.6,2.3,2.9,10.7,-3.8,12,-6.7,10.7,-11],
[77,31,77,30,71.8,20,73.7,4.8,73.7,-6.7,72.5,-11]];
const kelvin4 = [[-75.5,31,-75.5,30,-77.5,24.8,-83.3,20,-71.7,12.4,-64,3.8,-62,-2.9,-62.4,-11],
[-90,19.5,-88.4,18,-89.6,14.3],
[-91,0.5,-90,0,-80.7,-5.7,-75.5,-11],
[35,31,35,30,30,26.7,24.2,18,13.3,16.2,12.6,14.3,19.7,7.6,21,0,28.7,-11],
[52.5,31,52.5,30,50.6,24,40.3,16.2,49.3,5.7,46.7,-3.8,48.6,-11]];
const er4 = [[1,12.9,1,14.3,4.2,14.3,14.5,13.3,23.6,11.9,21,10.5,10.7,10,3,11,1,12.9]];

const mjo5 = [];
const low5 = [[8,31,8,30,6.2,24.3,6.8,21.4,0.4,14.8,0.4,4.3,2.3,1.4,10.7,-4.3,12.6,-6.2,11.7,-11],
[76.3,31,76.3,30,71.2,18.6,74.4,-0.5,74.8,-7,72.5,-11]];
const kelvin5 = [[-67,31,-67,30,-58.8,26.7,-51.7,21.9,-58.2,16.7,-60.7,9,-63.3,5.2,-61.4,3.3,-57.5,-1.4,-57.5,-7,-56.5,-11],
[-41.4,31,-41.4,30,-41,26,-43.6,21,-38.2,15.7,-29.2,7,-26.6,-0.5,-24,-11],
[56.8,20.5,61.5,25.7,69.9,27.6,71.4,25.2,69.9,22.4,63.5,19,58.3,19,56.8,20.5],
[51.2,12.9,51.8,14.8,58.3,15.2,67.3,12.9,72.5,9,75.7,3.8,73.8,0.5,69.9,-4.3,62.2,-6.4,54.4,-4.3,50.3,-1.4,51.9,4.3,52.5,8,51.2,12.9]];
const er5 = [[-51.7,5.7,-48.5,8.6,-40.8,10.2,-33,9,-28.2,5.2,-31.8,2.9,-40.8,2.2,-48.5,3.3,-51.7,5.7]];

const mjo6 = [[-91,26.2,-90,26.7,-81.3,29,-80,31],
[-60.7,31,-60.7,30,-62.7,20,-60.7,15.2,-64.6,10,-64,6.7,-58.8,1.9,-61.4,-4.8,-62,-11]];
const low6 = [[13.3,31,13.3,30,8,24.8,6.8,21,0.4,14.3,-1.5,11.4],
[-1.2,11.4,-0.9,8.6],
[0,2.4,2.3,0,13.3,-4.8,14.5,-6.7,12.6,-11],
[74.8,31,74.8,30,70.5,19,73.7,2.9,74.8,-6.7,72.5,-11]];
const kelvin6 = [[-20.8,-11,-20.2,-3.8,-22.8,2.9,-21.5,9.5,-15,14,-8.6,13.8,0.4,11,3.6,7.6,4.9,-1.9,10,-11],
[91,13.5,82.8,13.3,78.9,9.5,81.5,4.8,77.6,-1,80.2,-3.8,91,-5.5]];
const er6 = [[-61,6.2,-59,8,-51,9.7,-44.7,7,-44,5.2,-48.5,3.6,-56,3.3,-61,6.2],
[78.2,31,78.2,30,80.8,24.8,85.3,22.7,91,22.7]];

const mjo7 = [[-90,20,-89,21.4,-79.4,30,-78,31.5],
[-45.6,31,-45.6,30,-46,20.5,-42,17,-30.5,11,-26,6.2,-25.3,1.4,-29,-3.3,-40.8,-5.7,-41.8,-8,-40,-11]];
const low7 = [[25.5,31,25.5,30,13.3,26.7,9.4,24.8,9,21.9,0.4,14.8],
[-0.9,12.4,-1.3,10,-0.9,5.4],
[0.1,1.6,3,-0.5,13.1,-3.8,16.5,-6.2,13.9,-11],
[73.5,31,73.5,30,69.2,17.6,72.5,4.3,74.4,-6.2,72.2,-11]];
const kelvin7 = [];
const er7 = [[-68.9,7,-66,9,-60,9.8,-55,8,-52.6,5.7,-56.2,3.8,-62.7,4.3,-67.8,5.7,-68.9,7]];

/* ---------- wiring: panels reference the arrays above ---------- */
const panelFills = [fills0,fills1,fills2,fills3,fills4,fills5,fills6,fills7];
const panelMjo = [mjo0,mjo1,mjo2,mjo3,mjo4,mjo5,mjo6,mjo7];
const panelLow = [low0,low1,low2,low3,low4,low5,low6,low7];
const panelKelvin = [kelvin0,kelvin1,kelvin2,kelvin3,kelvin4,kelvin5,kelvin6,kelvin7];
const panelEr = [er0,er1,er2,er3,er4,er5,er6,er7];

/* ---------- layout ---------- */
const NS = "http://www.w3.org/2000/svg";
const plotW = 633, plotH = 140;
const colLeft = [102.7, 844.8];
const rowTop = [45.5, 278, 511, 744];

function make(tag, parent, attrs){
  const el = document.createElementNS(NS, tag);
  for (const k in attrs) el.setAttribute(k, attrs[k]);
  parent.appendChild(el);
  return el;
}
function axisX(left, lon){ return left + (lon + 90) * plotW / 180; }
function axisY(top, lat){ return top + (30 - lat) * plotH / 40; }
function toPoints(flat, left, top){
  const pts = [];
  for (let i = 0; i < flat.length; i += 2) pts.push([axisX(left, flat[i]), axisY(top, flat[i+1])]);
  return pts;
}
function straightPath(pts){
  return "M" + pts.map(p => p[0].toFixed(1) + " " + p[1].toFixed(1)).join("L");
}
function dist(a, b){ return Math.hypot(a[0]-b[0], a[1]-b[1]); }
/* chord-length tangent: the shorter neighbour dominates, so long edges never overshoot */
function tangent(a, b, c){
  const d0 = dist(a, b), d1 = dist(b, c);
  if (d0 === 0 && d1 === 0) return [0, 0];
  if (d0 === 0) return [(c[0]-b[0])/d1, (c[1]-b[1])/d1];
  if (d1 === 0) return [(b[0]-a[0])/d0, (b[1]-a[1])/d0];
  const s = d0 + d1;
  return [((b[0]-a[0])/d0*d1 + (c[0]-b[0])/d1*d0)/s, ((b[1]-a[1])/d0*d1 + (c[1]-b[1])/d1*d0)/s];
}
function smoothPath(pts, closed){
  const n = pts.length;
  const at = i => closed ? pts[(i + n) % n] : pts[Math.max(0, Math.min(n - 1, i))];
  let d = "M" + pts[0][0].toFixed(1) + " " + pts[0][1].toFixed(1);
  const segs = closed ? n : n - 1;
  for (let i = 0; i < segs; i++){
    const p0 = at(i-1), p1 = at(i), p2 = at(i+1), p3 = at(i+2);
    const len = dist(p1, p2) / 3;
    const t1 = tangent(p0, p1, p2), t2 = tangent(p1, p2, p3);
    const c1x = p1[0] + t1[0]*len, c1y = p1[1] + t1[1]*len;
    const c2x = p2[0] - t2[0]*len, c2y = p2[1] - t2[1]*len;
    d += "C" + c1x.toFixed(1)+" "+c1y.toFixed(1)+" "+c2x.toFixed(1)+" "+c2y.toFixed(1)+" "+p2[0].toFixed(1)+" "+p2[1].toFixed(1);
  }
  return closed ? d + "Z" : d;
}
function contourPath(flat, left, top){
  const n = flat.length;
  const isLoop = n > 4 && flat[0] === flat[n-2] && flat[1] === flat[n-1];
  const pts = toPoints(isLoop ? flat.slice(0, n-2) : flat, left, top);
  return smoothPath(pts, isLoop);
}

const clipDefs = document.getElementById("clips");

function drawContours(parent, lines, color, left, top, nameText){
  lines.forEach(function(line){
    const c = make("path", parent, {d: contourPath(line, left, top), fill: "none", stroke: color, "stroke-width": 1.7, "stroke-linejoin": "round"});
    
    
  });
}

for (let p = 0; p < 8; p++){
  const left = colLeft[p < 4 ? 0 : 1];
  const top = rowTop[p % 4];
  const g = document.getElementById("p" + p);

  const clip = make("clipPath", clipDefs, {id: "plot-clip-" + p});
  make("rect", clip, {x: left, y: top, width: plotW, height: plotH});

  const plot = make("g", g, {"clip-path": "url(#plot-clip-" + p + ")"});
  
  

  const bg = make("rect", plot, {x: left, y: top, width: plotW, height: plotH, fill: "#f7f7f7"});
  
  

  panelFills[p].forEach(function(entry){
    const color = levelColors[levelKeys.indexOf(entry[0])];
    const f = make("path", plot, {d: smoothPath(toPoints(entry[1], left, top), true), fill: color});
    
    
  });

  equatorOcean.forEach(function(range){
    const eq = make("line", plot, {x1: axisX(left, range[0]), x2: axisX(left, range[1]), y1: axisY(top, 0), y2: axisY(top, 0), stroke: "#666", "stroke-width": 1.5, "stroke-dasharray": "5 3.5"});
    
    
  });
  const pm = make("line", plot, {x1: axisX(left, 0), x2: axisX(left, 0), y1: axisY(top, 5), y2: axisY(top, -10), stroke: "#666", "stroke-width": 1.4, "stroke-dasharray": "5 3.5"});
  
  

  const mapG = make("path", plot, {d: coastlines.map(c => straightPath(toPoints(c, left, top))).join(""), fill: "none", stroke: "#666", "stroke-width": 1.6, "stroke-linejoin": "round"});
  
  

  drawContours(plot, panelMjo[p], "#000000", left, top, "mjo-contour");
  drawContours(plot, panelLow[p], "#a020f0", left, top, "low-contour");
  drawContours(plot, panelKelvin[p], "#0000ff", left, top, "kelvin-contour");
  drawContours(plot, panelEr[p], "#ff0000", left, top, "er-contour");

  const frame = make("rect", g, {x: left, y: top, width: plotW, height: plotH, fill: "none", stroke: "#000", "stroke-width": 3});
  
  

  let tickD = "";
  lonMajor.forEach(function(lon){
    const x = axisX(left, lon);
    tickD += "M" + x + " " + (top-5) + "V" + top + "M" + x + " " + (top+plotH) + "V" + (top+plotH+5);
  });
  lonMinor.forEach(function(lon){
    const x = axisX(left, lon);
    tickD += "M" + x + " " + (top-2.5) + "V" + top + "M" + x + " " + (top+plotH) + "V" + (top+plotH+2.5);
  });
  latMajor.forEach(function(lat){
    const y = axisY(top, lat);
    tickD += "M" + (left-5) + " " + y + "H" + left + "M" + (left+plotW) + " " + y + "H" + (left+plotW+5);
  });
  const ticks = make("path", g, {d: tickD, stroke: "#000", "stroke-width": 2, fill: "none"});
  
  

  let minorD = "";
  latMinor.forEach(function(lat){
    const y = axisY(top, lat);
    minorD += "M" + (left-2.5) + " " + y + "H" + left + "M" + (left+plotW) + " " + y + "H" + (left+plotW+2.5);
  });
  const minor = make("path", g, {d: minorD, stroke: "#000", "stroke-width": 1.2, fill: "none"});
  
  

  if (p < 4){
    latMajor.forEach(function(lat, i){
      const t = make("text", g, {x: 74, y: axisY(top, lat) + 12, "font-size": 34.2, "text-anchor": "end"});
      
      
      t.textContent = latLabels[i];
    });
  }
  if (p % 4 === 3){
    lonMajor.forEach(function(lon, i){
      const t = make("text", g, {x: axisX(left, lon) - 0.5, y: 940, "font-size": 35, "text-anchor": "middle"});
      
      
      t.textContent = lonLabels[i];
    });
  }
}

/* ---------- colorbar ---------- */
const cbar = document.getElementById("colorbar");
const cbarLeft = 230, cbarTop = 1003, cbarHeight = 23, cbarStep = 603 / levelColors.length;
levelColors.forEach(function(color, i){
  const r = make("rect", cbar, {x: cbarLeft + i * cbarStep, y: cbarTop, width: cbarStep, height: cbarHeight, fill: color, stroke: "#000", "stroke-width": 1.2});
  
  
});
colorbarLabels.forEach(function(label, i){
  const t = make("text", cbar, {x: cbarLeft + (i + 1) * cbarStep, y: 1055, "font-size": 29.5, "text-anchor": "middle"});
  
  
  t.textContent = label;
});
</script>
</body>
</html>
